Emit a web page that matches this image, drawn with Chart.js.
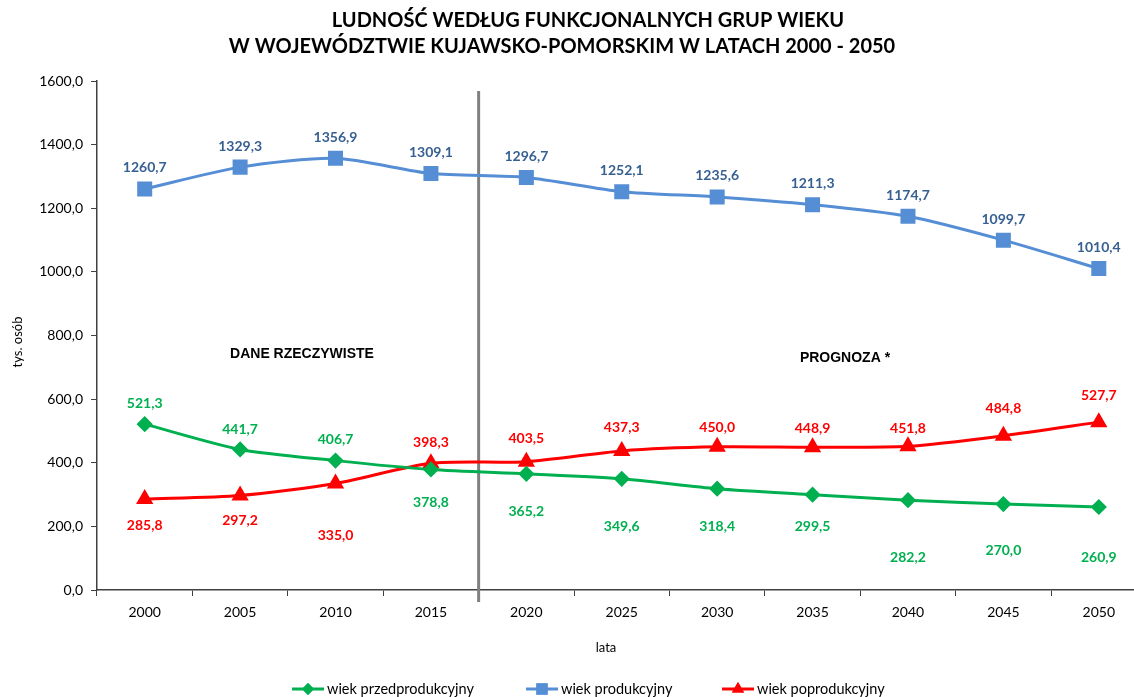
<!DOCTYPE html>
<html>
<head>
<meta charset="utf-8">
<script src="https://cdn.jsdelivr.net/npm/chart.js@4.4.1/dist/chart.umd.min.js"></script>
<style>
  html, body { margin: 0; padding: 0; background: #fff; overflow: hidden; }
  #wrap { width: 1158px; height: 697px; }
</style>
</head>
<body>
<div id="wrap"><canvas id="myChart" width="1158" height="697"></canvas></div>
<script>
// dane
const lata = ["2000","2005","2010","2015","2020","2025","2030","2035","2040","2045","2050"];
const przedprodukcyjny = [521.3, 441.7, 406.7, 378.8, 365.2, 349.6, 318.4, 299.5, 282.2, 270.0, 260.9];
const produkcyjny = [1260.7, 1329.3, 1356.9, 1309.1, 1296.7, 1252.1, 1235.6, 1211.3, 1174.7, 1099.7, 1010.4];
const poprodukcyjny = [285.8, 297.2, 335.0, 398.3, 403.5, 437.3, 450.0, 448.9, 451.8, 484.8, 527.7];
const yTicks = [0, 200, 400, 600, 800, 1000, 1200, 1400, 1600];

// przesuniecia etykiet (px) - tylko styl
const offGreen = [-21, -20, -21, 33, 38, 48, 38, 32, 57, 46, 50];
const offBlue = [-21, -21, -21, -21, -21, -21, -21, -21, -21, -21, -21];
const offRed = [26, 25, 52, -21, -23, -23, -19, -19, -18, -27, -27];

const FONT = 'Lato, "Open Sans", sans-serif';
const ARIAL = '"Liberation Sans", Arial, sans-serif';
const fmt = v => v.toFixed(1).replace('.', ',');

const labelsPlugin = {
    id: 'labelsPlugin',
    afterDatasetsDraw(chart) {
        const ctx = chart.ctx;
        const offs = [offGreen, offBlue, offRed];
        ctx.save();
        ctx.font = 'bold 14px ' + FONT;
        ctx.textAlign = 'center';
        ctx.textBaseline = 'middle';
        chart.data.datasets.forEach(function(ds, i) {
            const meta = chart.getDatasetMeta(i);
            ctx.fillStyle = ds.labelColor;
            meta.data.forEach(function(pt, j) {
                ctx.fillText(fmt(ds.data[j]), pt.x, pt.y + offs[i][j]);
            });
        });
        ctx.restore();
    },
    beforeDatasetsDraw(chart) {
        // pionowa linia miedzy 2015 a 2020
        const ctx = chart.ctx;
        const x = chart.scales.x;
        const xp = (x.getPixelForValue(3) + x.getPixelForValue(4)) / 2;
        ctx.save();
        ctx.strokeStyle = '#808080';
        ctx.lineWidth = 3;
        ctx.beginPath();
        ctx.moveTo(xp, 91);
        ctx.lineTo(xp, 602);
        ctx.stroke();
        ctx.restore();
    },
    afterDraw(chart) {
        const ctx = chart.ctx;
        ctx.save();
        ctx.fillStyle = '#000';
        ctx.textAlign = 'center';
        ctx.textBaseline = 'middle';
        ctx.font = 'bold 20px ' + FONT;
        ctx.fillText('LUDNOŚĆ WEDŁUG FUNKCJONALNYCH GRUP WIEKU', 588, 21);
        ctx.fillText('W WOJEWÓDZTWIE KUJAWSKO-POMORSKIM W LATACH 2000 - 2050', 562, 47);

        ctx.font = 'bold 14px ' + ARIAL;
        ctx.fillText('DANE RZECZYWISTE', 302, 354);
        ctx.fillText('PROGNOZA *', 845, 358);

        ctx.font = '13px ' + FONT;
        ctx.fillText('lata', 606, 648);
        ctx.save();
        ctx.translate(18, 342);
        ctx.rotate(-Math.PI / 2);
        ctx.fillText('tys. osób', 0, 0);
        ctx.restore();

        // legenda
        const items = [
            { x: 292, color: '#00B050', style: 'rectRot', r: 6, text: 'wiek przedprodukcyjny' },
            { x: 526, color: '#558ED5', style: 'rect', r: 8, text: 'wiek produkcyjny' },
            { x: 722, color: '#FF0000', style: 'triangle', r: 7, text: 'wiek poprodukcyjny' }
        ];
        const ly = 689;
        ctx.textAlign = 'left';
        ctx.font = '14.5px ' + FONT;
        items.forEach(function(it) {
            ctx.strokeStyle = it.color;
            ctx.lineWidth = 3;
            ctx.beginPath();
            ctx.moveTo(it.x, ly);
            ctx.lineTo(it.x + 32, ly);
            ctx.stroke();
            ctx.fillStyle = it.color;
            Chart.helpers.drawPoint(ctx, { pointStyle: it.style, radius: it.r, borderWidth: 0 }, it.x + 16, ly);
            ctx.fill();
            ctx.fillStyle = '#000';
            ctx.fillText(it.text, it.x + 35, ly);
        });
        ctx.restore();
    }
};

const ctx = document.getElementById('myChart').getContext('2d');
const myChart = new Chart(ctx, {
    type: 'line',
    data: {
        labels: lata,
        datasets: [
            {
                label: 'wiek przedprodukcyjny',
                data: przedprodukcyjny,
                borderColor: '#00B050',
                backgroundColor: '#00B050',
                labelColor: '#00B050',
                pointStyle: 'rectRot',
                pointRadius: 6,
                borderWidth: 3,
                tension: 0.25
            },
            {
                label: 'wiek produkcyjny',
                data: produkcyjny,
                borderColor: '#558ED5',
                backgroundColor: '#558ED5',
                labelColor: '#376092',
                pointStyle: 'rect',
                pointRadius: 8.5,
                borderWidth: 3,
                tension: 0.25
            },
            {
                label: 'wiek poprodukcyjny',
                data: poprodukcyjny,
                borderColor: '#FF0000',
                backgroundColor: '#FF0000',
                labelColor: '#FF0000',
                pointStyle: 'triangle',
                pointRadius: 7,
                borderWidth: 3,
                tension: 0.25
            }
        ]
    },
    options: {
        responsive: false,
        animation: false,
        layout: { padding: { top: 81, right: 1, left: 0, bottom: 0 } },
        plugins: {
            legend: { display: false },
            title: { display: false },
            tooltip: { enabled: false }
        },
        scales: {
            x: {
                offset: true,
                grid: {
                    offset: true,
                    drawOnChartArea: false,
                    drawTicks: true,
                    tickLength: 6,
                    color: '#404040'
                },
                border: { color: '#404040', width: 1.5 },
                ticks: { color: '#000', font: { family: FONT, size: 14 }, padding: 8, maxRotation: 0 },
                afterFit: function(s) { s.height = 107; s.paddingLeft = 0; s.paddingRight = 0; }
            },
            y: {
                min: 0,
                max: 1600,
                afterBuildTicks: function(s) { s.ticks = yTicks.map(v => ({ value: v })); },
                grid: {
                    drawOnChartArea: false,
                    drawTicks: true,
                    tickLength: 6,
                    color: '#404040'
                },
                border: { color: '#404040', width: 1.5 },
                ticks: {
                    color: '#000',
                    font: { family: FONT, size: 14 },
                    padding: 8,
                    callback: function(v) { return fmt(v); }
                },
                afterFit: function(s) { s.width = 97; s.paddingTop = 0; s.paddingBottom = 0; }
            }
        }
    },
    plugins: [labelsPlugin]
});
</script>
</body>
</html>
